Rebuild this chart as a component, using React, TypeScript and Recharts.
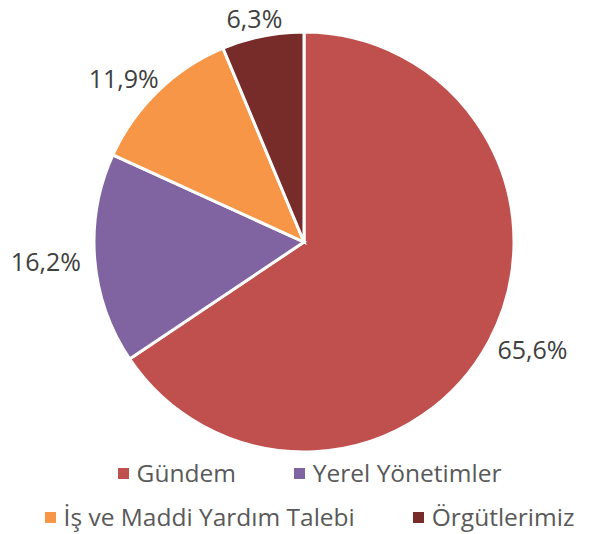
import React from 'react';
import { PieChart, Pie, Cell, Legend } from 'recharts';

const categories = ['Gündem', 'Yerel Yönetimler', 'İş ve Maddi Yardım Talebi', 'Örgütlerimiz'];
const shares = [65.6, 16.2, 11.9, 6.3];
const colors = ['#C0504D', '#8064A2', '#F79646', '#772C2A'];

const data = categories.map((name, i) => ({ name, value: shares[i] }));

const RAD = Math.PI / 180;

const renderLabel = (props: any) => {
    const { cx, cy, midAngle, outerRadius, value } = props;
    const cos = Math.cos(-midAngle * RAD);
    const sin = Math.sin(-midAngle * RAD);
    const text = value.toFixed(1).replace('.', ',') + '%';
    const w = text.length * 14;
    const r = outerRadius + 14;
    const x = cx + r * cos + (cos * w) / 2;
    const y = cy + r * sin + sin * 4;
    return (
        <text
            x={x}
            y={y}
            textAnchor="middle"
            dominantBaseline="central"
            fill="#404040"
            style={{ fontSize: '25px', fontFamily: '"Open Sans", sans-serif' }}
        >
            {text}
        </text>
    );
};

const renderLegend = () => (
    <div
        style={{
            display: 'flex',
            flexWrap: 'wrap',
            justifyContent: 'center',
            columnGap: '58px',
            paddingLeft: '30px',
            boxSizing: 'border-box',
            width: '589px',
            fontFamily: '"Open Sans", sans-serif',
            fontSize: '24.5px',
            color: '#595959',
            lineHeight: '44px',
        }}
    >
        {categories.map((c, i) => (
            <div key={c} style={{ display: 'flex', alignItems: 'center' }}>
                <span
                    style={{
                        display: 'inline-block',
                        width: 11,
                        height: 11,
                        background: colors[i],
                        marginRight: 8,
                    }}
                />
                <span>{c}</span>
            </div>
        ))}
    </div>
);

export default function App() {
    return (
        <div style={{ position: 'absolute', top: 0, left: 0, background: '#fff' }}>
            <PieChart width={589} height={534} margin={{ top: 0, right: 0, bottom: 0, left: 0 }}>
                <Pie
                    data={data}
                    dataKey="value"
                    nameKey="name"
                    cx={304}
                    cy={242}
                    outerRadius={210}
                    startAngle={90}
                    endAngle={-270}
                    stroke="#fff"
                    strokeWidth={3}
                    label={renderLabel}
                    labelLine={false}
                    isAnimationActive={false}
                >
                    {data.map((d, i) => (
                        <Cell key={d.name} fill={colors[i]} />
                    ))}
                </Pie>
                <Legend content={renderLegend} wrapperStyle={{ top: 451, left: 0, width: 589 }} />
            </PieChart>
        </div>
    );
}
